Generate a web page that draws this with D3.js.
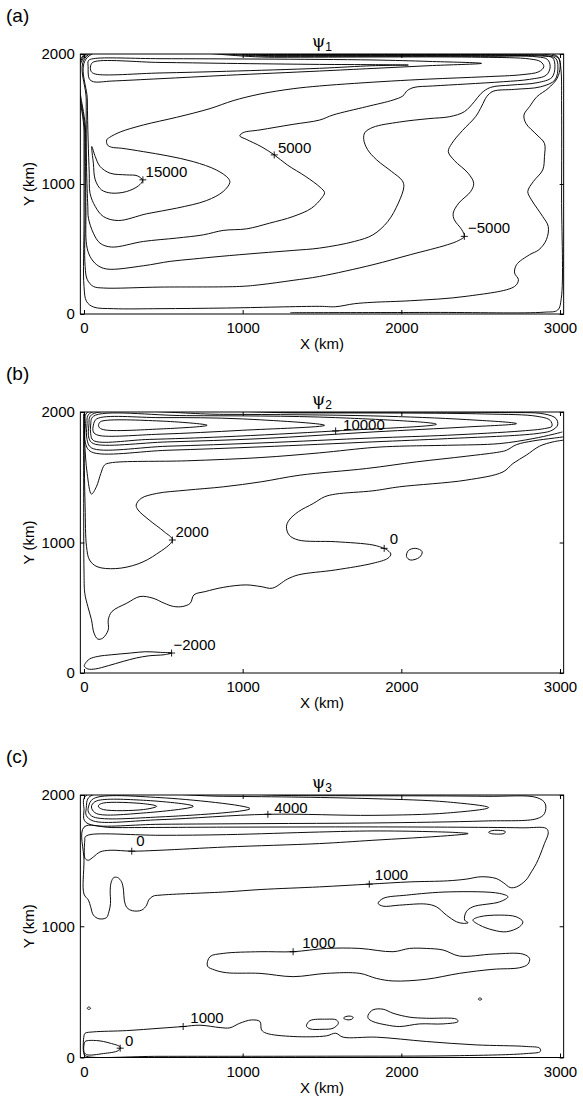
<!DOCTYPE html>
<html>
<head>
<meta charset="utf-8">
<script src="https://cdn.jsdelivr.net/npm/d3@7"></script>
<style>
  body { margin: 0; background: #fff; }
  svg { display: block; }
  text { font-family: "Liberation Sans", Arial, Helvetica, sans-serif; fill: #000; }
</style>
</head>
<body>
<svg id="chart" width="583" height="1100"></svg>
<script>
// ---- data (km) ----
const X_TICKS = [0, 1000, 2000, 3000];
const Y_TICKS = [0, 1000, 2000];

// psi 1
const psi1M10000 = [[0,1996],[0,1400],[0,700],[0,212],[16,97],[59,54],[186,41],[479,41],[898,46],[1485,59],[1586,56],[1704,79],[1821,90],[2056,102],[2409,136],[2714,212],[2738,264],[2714,315],[2726,379],[2808,456],[2867,494],[2914,571],[2926,673],[2891,750],[2855,814],[2820,878],[2797,942],[2832,1019],[2891,1108],[2902,1211],[2902,1313],[2855,1377],[2785,1467],[2773,1531],[2808,1595],[2855,1672],[2926,1736],[2982,1813],[3001,1902],[2991,1966],[2938,1992],[2500,1996],[1200,1996]];
const psi1M5000 = [[5,1992],[5,1400],[7,800],[7,366],[21,264],[59,212],[122,200],[479,207],[982,212],[1109,225],[1318,259],[1485,289],[1821,379],[2056,456],[2291,533],[2362,566],[2397,597],[2381,648],[2334,725],[2327,776],[2362,853],[2437,942],[2456,1006],[2421,1083],[2334,1181],[2296,1249],[2319,1313],[2385,1411],[2468,1518],[2507,1600],[2538,1672],[2578,1713],[2714,1728],[2879,1748],[2968,1800],[2987,1902],[2973,1966],[2902,1988],[2500,1992],[1200,1992]];
const psi1Zero = [[10,1987],[10,1400],[12,800],[16,533],[38,443],[80,379],[143,346],[374,371],[543,405],[689,423],[858,443],[1109,469],[1318,489],[1485,507],[1704,558],[1821,609],[1915,712],[1981,853],[2016,981],[2005,1027],[1939,1096],[1845,1185],[1786,1267],[1763,1344],[1770,1395],[1821,1436],[1990,1477],[2174,1503],[2305,1518],[2397,1556],[2460,1633],[2503,1697],[2562,1743],[2691,1761],[2855,1779],[2949,1820],[2968,1902],[2954,1970],[2890,1984],[2500,1987],[1200,1987]];
const psi1P5000 = [[16,1982],[14,1646],[16,1134],[24,827],[28,737],[59,622],[101,545],[174,515],[374,558],[583,584],[752,609],[877,643],[1025,655],[1170,699],[1318,750],[1434,814],[1497,891],[1516,934],[1488,975],[1398,1057],[1281,1147],[1199,1224],[1116,1288],[1022,1344],[982,1370],[1003,1395],[1109,1416],[1318,1459],[1485,1492],[1570,1531],[1781,1595],[1948,1646],[2009,1677],[2037,1718],[2080,1743],[2197,1754],[2409,1769],[2644,1787],[2808,1805],[2914,1838],[2938,1902],[2921,1958],[2855,1978],[2500,1982],[1200,1982]];
const psi1P10000 = [[22,1975],[21,1646],[26,1339],[33,1083],[38,929],[71,827],[122,750],[216,719],[395,771],[583,814],[773,873],[877,942],[919,1011],[909,1044],[834,1108],[689,1172],[529,1216],[374,1249],[237,1275],[174,1283],[148,1300],[143,1339],[162,1359],[228,1400],[374,1454],[583,1513],[794,1580],[940,1641],[1109,1692],[1318,1733],[1485,1754],[1704,1774],[1939,1792],[2174,1807],[2526,1825],[2761,1841],[2867,1864],[2898,1902],[2879,1940],[2808,1962],[2500,1975],[1200,1975]];
const psi1P15000 = [[49,1288],[59,1160],[71,1032],[110,955],[174,930],[268,942],[343,986],[369,1027],[336,1063],[268,1070],[165,1083],[101,1135],[71,1211]];
const psi1TongueA = [[42,1910],[59,1938],[479,1935],[898,1928],[1485,1920],[1821,1918],[2044,1915],[1821,1910],[1485,1890],[898,1867],[479,1854],[71,1846],[45,1866]];
const psi1TongueB = [[28,1949],[59,1964],[479,1964],[1116,1961],[1821,1954],[2174,1943],[2505,1928],[2174,1910],[1821,1889],[1485,1869],[898,1836],[479,1810],[176,1792],[59,1787],[33,1810],[26,1902]];
const psi1EastWall = [[1300,10],[2200,12],[2900,14],[2985,30],[3008,120],[3010,900],[3010,1600],[3006,1880],[2990,1975],[2950,1999]];
const psi1Labels = [
  { text: "15000", mark: [371,1032], pos: [388,1057] },
  { text: "5000", mark: [1199,1224], pos: [1222,1240] },
  { text: "\u22125000", mark: [2397,597], pos: [2420,622] }
];

// psi 2
const psi2LoopA = [[94,1911],[110,1929],[479,1931],[776,1898],[479,1870],[122,1865],[94,1885]];
const psi2LoopB = [[59,1898],[80,1947],[479,1957],[999,1947],[1516,1898],[999,1860],[479,1830],[89,1822],[59,1847]];
const psi2LoopC = [[42,1900],[59,1967],[646,1972],[1586,1957],[2221,1906],[1586,1855],[881,1810],[411,1790],[59,1782],[42,1835]];
const psi2LoopD = [[31,1900],[47,1978],[881,1982],[1821,1970],[2409,1942],[2726,1911],[2409,1885],[1821,1847],[1116,1796],[529,1771],[59,1758],[31,1800]];
const psi2LoopE = [[19,1900],[35,1988],[1351,1993],[2526,1985],[2855,1967],[2938,1936],[2949,1891],[2902,1873],[2761,1855],[2291,1822],[1821,1801],[1116,1763],[529,1738],[47,1725],[19,1790]];
const psi2LoopF = [[9,1900],[20,1995],[1351,1998],[2620,1996],[2900,1985],[2975,1950],[2985,1900],[2950,1860],[2855,1835],[2291,1796],[1821,1771],[1116,1733],[529,1707],[47,1694],[9,1760]];
const psi2Dip = [[4,1985],[4,1784],[20,1529],[47,1371],[78,1427],[106,1529],[129,1593],[165,1610],[646,1626],[1116,1651],[1485,1687],[1821,1728],[1990,1738],[2291,1745],[2620,1758],[2829,1796],[2956,1829],[3015,1847]];
const psi2P2000 = [[1,1990],[1,1707],[7,1274],[16,968],[35,866],[82,815],[200,800],[341,836],[458,912],[557,1019],[505,1083],[411,1172],[341,1249],[329,1287],[360,1338],[458,1376],[646,1401],[881,1427],[1116,1465],[1361,1516],[1781,1567],[2096,1618],[2409,1661],[2620,1694],[2663,1707],[2726,1750],[2829,1778],[2956,1799],[3020,1809]];
const psi2Zero = [[-2,1985],[-2,1300],[0,780],[5,611],[24,510],[47,408],[63,306],[87,260],[118,267],[153,331],[153,408],[176,471],[270,535],[353,586],[435,573],[505,535],[564,510],[623,510],[670,535],[693,599],[764,624],[881,657],[1022,675],[1116,662],[1187,650],[1281,719],[1351,752],[1586,790],[1821,841],[1915,879],[1934,912],[1904,948],[1892,955],[1821,981],[1586,1006],[1351,1019],[1293,1057],[1276,1121],[1293,1172],[1351,1236],[1445,1299],[1516,1350],[1586,1371],[1821,1396],[1990,1427],[2409,1478],[2641,1541],[2703,1605],[2787,1669],[2871,1738],[2956,1771],[3020,1784]];
const psi2Island = [[2033,892],[2044,938],[2091,955],[2131,930],[2115,887],[2056,866]];
const psi2M2000 = [[7,71],[35,107],[87,127],[176,140],[294,153],[388,163],[482,158],[552,153],[505,140],[411,132],[329,115],[247,89],[153,56],[71,31],[24,31],[2,51]];
const psi2Labels = [
  { text: "10000", mark: [1586,1855], pos: [1633,1865] },
  { text: "2000", mark: [557,1019], pos: [576,1045] },
  { text: "0", mark: [1892,955], pos: [1927,989] },
  { text: "\u22122000", mark: [552,153], pos: [564,173] }
];

// psi 3
const psi3LoopA = [[92,1922],[122,1939],[374,1934],[458,1914],[374,1889],[122,1889],[92,1909]];
const psi3LoopB = [[49,1922],[80,1955],[374,1960],[689,1914],[374,1863],[80,1858],[49,1896]];
const psi3LoopC = [[28,1909],[59,1972],[479,1980],[1046,1896],[479,1833],[59,1833],[28,1871]];
const psi3LoopD = [[14,1896],[38,1990],[881,1990],[1821,1972],[2291,1947],[2550,1904],[2291,1863],[1821,1845],[1159,1853],[479,1812],[59,1802],[14,1845]];
const psi3LoopE = [[0,1884],[12,1995],[1351,1995],[2526,1990],[2855,1980],[2907,1934],[2902,1858],[2855,1820],[2526,1802],[1821,1787],[1116,1782],[479,1777],[47,1772],[2,1807]];
const psi3ZeroN = [[7,1680],[38,1698],[479,1693],[898,1698],[1485,1718],[1821,1726],[2174,1721],[2362,1713],[2421,1706],[2291,1690],[1821,1655],[1485,1630],[898,1604],[479,1579],[301,1572],[165,1579],[101,1566],[59,1528],[28,1503],[7,1516],[2,1579],[5,1655]];
const psi3EddyN = [[2550,1716],[2570,1728],[2610,1731],[2655,1722],[2650,1708],[2600,1702],[2560,1708]];
const psi3P1000N = [[0,1755],[176,1752],[881,1755],[1586,1757],[2291,1755],[2761,1750],[2914,1745],[2926,1712],[2902,1630],[2874,1541],[2851,1478],[2820,1415],[2785,1351],[2726,1300],[2686,1295],[2644,1331],[2597,1364],[2503,1377],[2409,1359],[2291,1346],[2056,1338],[1798,1321],[1485,1300],[1116,1280],[898,1262],[479,1237],[435,1229],[407,1199],[395,1161],[364,1123],[306,1118],[270,1143],[254,1199],[249,1275],[237,1338],[212,1371],[188,1371],[172,1338],[165,1275],[167,1174],[157,1110],[141,1065],[94,1057],[59,1085],[42,1148],[28,1199],[0,1245],[0,1500]];
const psi3EddyE1 = [[1854,1174],[1885,1212],[2033,1237],[2305,1262],[2620,1250],[2672,1224],[2620,1186],[2451,1148],[2409,1110],[2399,1047],[2421,1027],[2390,1022],[2348,1034],[2284,1085],[2221,1148],[2157,1169],[1990,1161],[1885,1153]];
const psi3EddyE2 = [[2451,1047],[2493,1072],[2620,1085],[2724,1072],[2766,1034],[2745,996],[2663,958],[2578,971],[2493,1009]];
const psi3P1000M = [[778,697],[794,768],[877,793],[1109,806],[1318,806],[1528,831],[1739,831],[1948,806],[2052,831],[2157,831],[2263,819],[2366,773],[2578,788],[2766,788],[2808,755],[2797,710],[2745,684],[2578,672],[2366,641],[2157,596],[1948,583],[1842,603],[1739,641],[1528,641],[1318,616],[1109,641],[898,646],[823,667]];
const psi3P1000S = [[0,165],[7,185],[59,195],[268,205],[479,223],[625,236],[731,246],[858,228],[919,226],[982,261],[1055,286],[1109,274],[1119,210],[1149,185],[1318,160],[1528,165],[1586,185],[1633,155],[1842,155],[2157,122],[2472,96],[2787,84],[2872,71],[2876,46],[2787,30],[2366,14],[1528,10],[479,9],[16,9],[0,25]];
const psi3ZeroS = [[0,96],[7,122],[80,129],[165,109],[228,79],[216,53],[122,30],[16,22],[0,46]];
const psi3SpotA = [[1403,248],[1424,281],[1528,292],[1591,286],[1603,261],[1570,223],[1506,215],[1424,218],[1403,236]];
const psi3SpotB = [[1636,300],[1650,312],[1680,315],[1697,305],[1685,290],[1655,288]];
const psi3SpotC = [[1791,324],[1821,363],[1885,368],[1948,337],[2054,307],[2157,299],[2348,292],[2357,274],[2263,256],[2115,256],[1990,236],[1906,248],[1821,274],[1791,299]];
const psi3SpotD = [[2485,445],[2495,454],[2507,445],[2495,437]];
const psi3SpotE = [[20,375],[30,385],[42,375],[30,366]];
const psi3Labels = [
  { text: "4000", mark: [1159,1853], pos: [1199,1863] },
  { text: "0", mark: [301,1572], pos: [329,1610] },
  { text: "1000", mark: [1798,1321], pos: [1833,1356] },
  { text: "1000", mark: [1318,806], pos: [1375,831] },
  { text: "1000", mark: [625,236], pos: [670,266] },
  { text: "0", mark: [228,71], pos: [258,85] }
];

// ---- layout ----
const panels = [
  { tag: "(a)", sub: "1", top: 54, bottom: 314,
    closed: [psi1M10000, psi1M5000, psi1Zero, psi1P5000, psi1P10000, psi1P15000, psi1TongueA, psi1TongueB],
    open: [psi1EastWall], labels: psi1Labels },
  { tag: "(b)", sub: "2", top: 412, bottom: 673,
    closed: [psi2LoopA, psi2LoopB, psi2LoopC, psi2LoopD, psi2LoopE, psi2LoopF, psi2Island, psi2M2000],
    open: [psi2Dip, psi2P2000, psi2Zero], labels: psi2Labels },
  { tag: "(c)", sub: "3", top: 795, bottom: 1057.5,
    closed: [psi3LoopA, psi3LoopB, psi3LoopC, psi3LoopD, psi3LoopE, psi3ZeroN, psi3EddyN, psi3P1000N,
             psi3EddyE1, psi3EddyE2, psi3P1000M, psi3P1000S, psi3ZeroS, psi3SpotA, psi3SpotB, psi3SpotC, psi3SpotD, psi3SpotE],
    open: [], labels: psi3Labels }
];

const svg = d3.select("#chart");
svg.append("rect").attr("width", 583).attr("height", 1100).attr("fill", "#fff");

const x = d3.scaleLinear().domain([0, 3000]).range([84, 560]);
const frameL = x(-23), frameR = x(3023);

panels.forEach((p, i) => {
  const y = d3.scaleLinear().domain([0, 2000]).range([p.bottom, p.top]);
  const g = svg.append("g");

  svg.append("clipPath").attr("id", "clip" + i)
    .append("rect")
    .attr("x", frameL).attr("y", p.top)
    .attr("width", frameR - frameL).attr("height", p.bottom - p.top);

  const openLine = d3.line().x(d => x(d[0])).y(d => y(d[1])).curve(d3.curveCatmullRom.alpha(0.5));
  const closedLine = d3.line().x(d => x(d[0])).y(d => y(d[1])).curve(d3.curveCatmullRomClosed.alpha(0.5));

  const lines = g.append("g")
    .attr("clip-path", `url(#clip${i})`)
    .attr("fill", "none")
    .attr("stroke", "#000")
    .attr("stroke-width", 0.95);

  lines.selectAll("path.closed").data(p.closed).enter().append("path")
    .attr("class", "closed").attr("d", closedLine);
  lines.selectAll("path.open").data(p.open).enter().append("path")
    .attr("class", "open").attr("d", openLine);

  // frame
  g.append("rect")
    .attr("x", frameL).attr("y", p.top)
    .attr("width", frameR - frameL).attr("height", p.bottom - p.top)
    .attr("fill", "none").attr("stroke", "#000").attr("stroke-width", 1);

  // axes, ticks pointing inward
  const styleAxis = sel => {
    sel.select(".domain").remove();
    sel.selectAll("line").attr("stroke", "#000");
    sel.selectAll("text").attr("font-size", 15).attr("fill", "#000")
      .attr("font-family", '"Liberation Sans", Arial, sans-serif');
  };
  g.append("g").attr("transform", `translate(0,${p.bottom})`)
    .call(d3.axisBottom(x).tickValues(X_TICKS).tickSize(-4).tickPadding(8.5).tickFormat(d3.format("d")))
    .call(styleAxis);
  g.append("g").attr("transform", `translate(0,${p.top})`)
    .call(d3.axisTop(x).tickValues(X_TICKS).tickSize(-4).tickFormat(""))
    .call(styleAxis);
  g.append("g").attr("transform", `translate(${frameL},0)`)
    .call(d3.axisLeft(y).tickValues(Y_TICKS).tickSize(-4).tickPadding(5.5).tickFormat(d3.format("d")))
    .call(styleAxis);
  g.append("g").attr("transform", `translate(${frameR},0)`)
    .call(d3.axisRight(y).tickValues(Y_TICKS).tickSize(-4).tickFormat(""))
    .call(styleAxis);

  // contour labels with + markers
  const lab = g.append("g");
  p.labels.forEach(l => {
    const mx = x(l.mark[0]), my = y(l.mark[1]);
    lab.append("path")
      .attr("d", `M${mx - 3.5},${my}H${mx + 3.5}M${mx},${my - 3.5}V${my + 3.5}`)
      .attr("stroke", "#000").attr("stroke-width", 0.9);
    lab.append("text")
      .attr("x", x(l.pos[0])).attr("y", y(l.pos[1]))
      .attr("font-size", 15)
      .text(l.text);
  });

  // axis titles
  const midX = (frameL + frameR) / 2;
  g.append("text")
    .attr("x", midX).attr("y", p.bottom + 35)
    .attr("text-anchor", "middle").attr("font-size", 15)
    .text("X (km)");
  g.append("text")
    .attr("transform", `translate(34,${(p.top + p.bottom) / 2}) rotate(-90)`)
    .attr("text-anchor", "middle").attr("font-size", 15)
    .text("Y (km)");

  // panel tag and title
  g.append("text")
    .attr("x", 6).attr("y", p.top - 32)
    .attr("font-size", 19)
    .text(p.tag);
  const title = g.append("text")
    .attr("x", midX).attr("y", p.top - 7)
    .attr("text-anchor", "middle")
    .attr("fill", "#000");
  title.append("tspan")
    .attr("font-family", '"DejaVu Serif", "Liberation Serif", serif')
    .attr("font-size", 17)
    .attr("fill", "#000")
    .text("\u03C8");
  title.append("tspan")
    .attr("font-size", 12).attr("dy", 4)
    .attr("fill", "#000")
    .text(p.sub);
});
</script>
</body>
</html>
